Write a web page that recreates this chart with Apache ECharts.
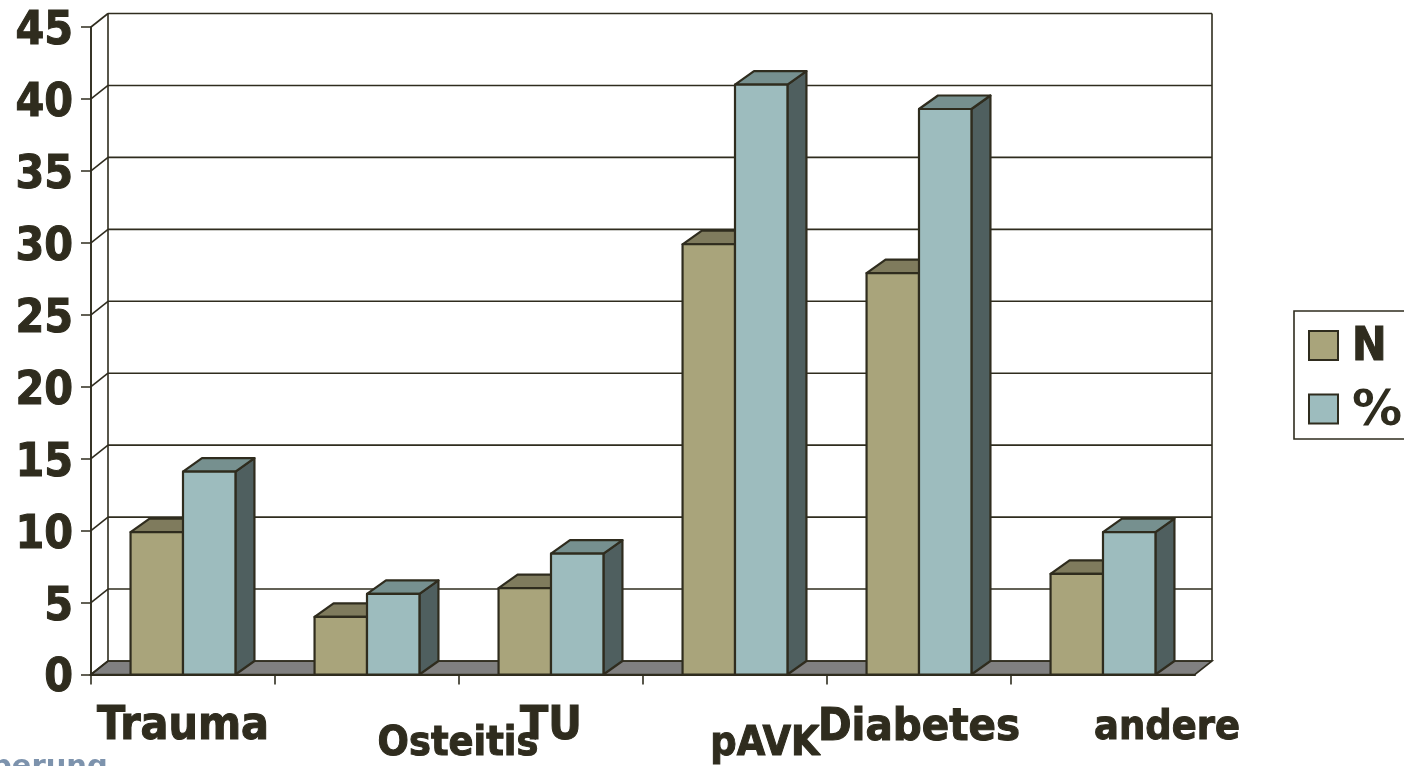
<!DOCTYPE html>
<html>
<head>
<meta charset="utf-8">
<style>html,body{margin:0;padding:0;background:#fff;overflow:hidden}#chart{width:1404px;height:766px}</style>
<script src="https://cdn.jsdelivr.net/npm/echarts@6/dist/echarts.min.js"></script>
</head>
<body>
<div id="chart"></div>
<script>
const categories = ['Trauma', 'Osteitis', 'TU', 'pAVK', 'Diabetes', 'andere'];
const seriesN = [9.9, 4, 6, 29.9, 27.9, 7];
const seriesPercent = [14.1, 5.6, 8.4, 41, 39.3, 9.9];
const yTicks = [0, 5, 10, 15, 20, 25, 30, 35, 40, 45];

const INK = '#2f2c1e';
const FONT = '"DejaVu Sans Condensed", "DejaVu Sans", sans-serif';
const WALL_DX = 17, WALL_DY = 13.5;   // depth of the back wall
const BAR_DX = 19, BAR_DY = 13.5;     // depth of each column
const BAR_SHARE = 0.285;              // column width as a share of a category
const TICK_LEN = 10;

// Per-label rich text styles: the category labels differ in size and sit staggered.
const labelStyle = {
  Trauma:   { fontSize: 46, padding: [16, 0, 0, 0] },
  Osteitis: { fontSize: 41, padding: [35, 0, 0, 182] },
  TU:       { fontSize: 46, padding: [16, 0, 0, 0] },
  pAVK:     { fontSize: 41, padding: [35, 0, 0, 60] },
  Diabetes: { fontSize: 45, padding: [17, 0, 0, 0] },
  andere:   { fontSize: 41, padding: [19, 0, 0, 128] }
};
const heavyText = { textBorderColor: INK, textBorderWidth: 1 };
const richStyles = {};
categories.forEach((name) => {
  richStyles[name] = Object.assign({ fontWeight: 'bold', fontFamily: FONT, color: INK }, heavyText, labelStyle[name]);
});

// Back wall, floor and the gridlines that run from the axis over the wall.
function renderWall(params, api) {
  const cs = params.coordSys;
  const left = cs.x, right = cs.x + cs.width;
  const line = (x1, y1, x2, y2) => ({
    type: 'line',
    shape: { x1, y1, x2, y2 },
    style: { stroke: INK, lineWidth: 1.6, fill: null }
  });
  const value = api.value(0);
  const y = api.coord([0, value])[1];
  const children = [
    line(left, y, left + WALL_DX, y - WALL_DY),
    line(left + WALL_DX, y - WALL_DY, right + WALL_DX, y - WALL_DY)
  ];
  if (value === 0) {
    children.unshift({
      type: 'polygon',
      shape: { points: [[left, y], [left + WALL_DX, y - WALL_DY], [right + WALL_DX, y - WALL_DY], [right, y]] },
      style: { fill: '#808080', stroke: INK, lineWidth: 1.6 }
    });
    const top = api.coord([0, yTicks[yTicks.length - 1]])[1] - WALL_DY;
    children.push(line(left + WALL_DX, y - WALL_DY, left + WALL_DX, top));
    children.push(line(right + WALL_DX, y - WALL_DY, right + WALL_DX, top));
    children.push(line(left, y, left, top + WALL_DY));
    // Category separators below the axis; the far end of the axis carries none.
    const step = cs.width / categories.length;
    categories.forEach((_, i) => {
      children.push(line(left + i * step, y, left + i * step, y + TICK_LEN));
    });
  }
  return { type: 'group', children };
}

// One 3D column: side 0 sits left of the category centre, side 1 right of it.
function barRenderer(side, front, topFace, sideFace) {
  return function (params, api) {
    const catWidth = api.size([1, 0])[0];
    const w = catWidth * BAR_SHARE;
    const base = api.coord([api.value(0), 0]);
    const head = api.coord([api.value(0), api.value(1)]);
    const x0 = base[0] + (side === 0 ? -w : 0);
    const x1 = x0 + w;
    const stroke = { stroke: INK, lineWidth: 2.2, lineJoin: 'round' };
    return {
      type: 'group',
      children: [
        {
          type: 'polygon',
          shape: { points: [[x1, head[1]], [x1 + BAR_DX, head[1] - BAR_DY], [x1 + BAR_DX, base[1] - BAR_DY], [x1, base[1]]] },
          style: Object.assign({ fill: sideFace }, stroke)
        },
        {
          type: 'polygon',
          shape: { points: [[x0, head[1]], [x0 + BAR_DX, head[1] - BAR_DY], [x1 + BAR_DX, head[1] - BAR_DY], [x1, head[1]]] },
          style: Object.assign({ fill: topFace }, stroke)
        },
        {
          type: 'rect',
          shape: { x: x0, y: head[1], width: w, height: base[1] - head[1] },
          style: Object.assign({ fill: front }, stroke)
        }
      ]
    };
  };
}

const chart = echarts.init(document.getElementById('chart'), null, { renderer: 'canvas' });
chart.setOption({
  animation: false,
  backgroundColor: '#ffffff',
  grid: { left: 91, top: 27, width: 1104, height: 647.5, containLabel: false },
  legend: {
    left: 1294,
    top: 311,
    orient: 'vertical',
    align: 'left',
    data: ['N', '%'],
    icon: 'rect',
    itemWidth: 29,
    itemHeight: 29,
    itemGap: 15,
    padding: [14, 40, 2, 14],
    borderColor: INK,
    borderWidth: 1.6,
    selectedMode: false,
    formatter: (name) => (name === '%' ? '{wide|%}' : '{plain|N}'),
    textStyle: {
      fontWeight: 'bold',
      fontFamily: FONT,
      color: INK,
      rich: {
        plain: Object.assign({ fontSize: 46, fontWeight: 'bold', fontFamily: FONT, color: INK, padding: [6, 0, 0, 9] }, heavyText),
        wide: { fontSize: 50, fontWeight: 'bold', fontFamily: '"DejaVu Sans", sans-serif', color: INK, padding: [6, 0, 0, 9] }
      }
    }
  },
  xAxis: {
    type: 'category',
    data: categories,
    axisLine: { lineStyle: { color: INK, width: 2 } },
    axisTick: { show: false },
    axisLabel: {
      interval: 0,
      hideOverlap: false,
      margin: 14,
      verticalAlign: 'top',
      formatter: (name) => `{${name}|${name}}`,
      rich: richStyles
    }
  },
  yAxis: {
    type: 'value',
    min: 0,
    max: 45,
    interval: 5,
    splitLine: { show: false },
    axisLine: { show: true, lineStyle: { color: INK, width: 1.6 } },
    axisTick: { show: true, length: TICK_LEN, lineStyle: { color: INK, width: 1.5 } },
    axisLabel: {
      margin: 18,
      formatter: (value) => `{tick|${value}}`,
      rich: {
        tick: Object.assign({ padding: [10, 0, 0, 0], fontSize: 46, fontWeight: 'bold', fontFamily: FONT, color: INK }, heavyText)
      }
    }
  },
  graphic: [
    {
      type: 'text',
      x: -9,
      y: 753,
      silent: true,
      style: { text: 'berung', font: 'bold 29px "DejaVu Sans", sans-serif', fill: '#7d93ad' }
    }
  ],
  series: [
    {
      type: 'custom',
      name: 'wall',
      silent: true,
      z: 1,
      renderItem: renderWall,
      encode: { y: 0 },
      data: yTicks.map((t) => [t])
    },
    {
      type: 'custom',
      name: 'N',
      z: 2,
      itemStyle: { color: '#a9a47b', borderColor: INK, borderWidth: 2 },
      renderItem: barRenderer(0, '#a9a47b', '#7f7b5d', '#5d5a42'),
      encode: { x: 0, y: 1 },
      data: categories.map((_, i) => [i, seriesN[i]])
    },
    {
      type: 'custom',
      name: '%',
      z: 3,
      itemStyle: { color: '#9dbcbe', borderColor: INK, borderWidth: 2 },
      renderItem: barRenderer(1, '#9dbcbe', '#76908f', '#4f5f5f'),
      encode: { x: 0, y: 1 },
      data: categories.map((_, i) => [i, seriesPercent[i]])
    }
  ]
});
</script>
</body>
</html>
